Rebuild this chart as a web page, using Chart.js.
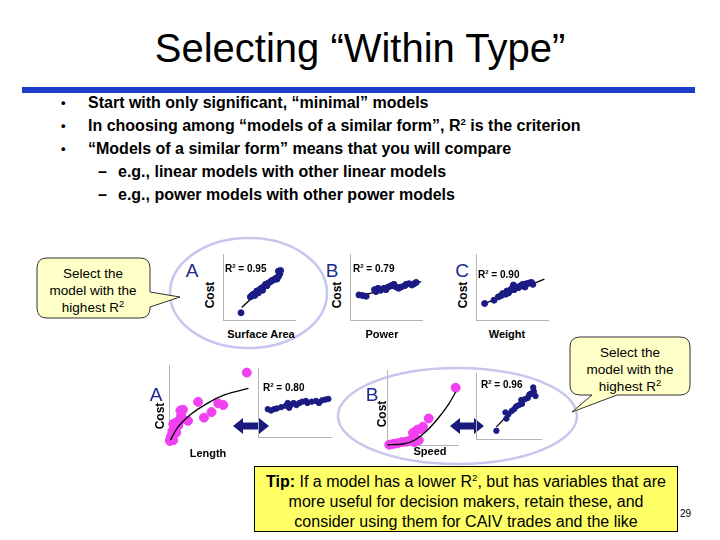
<!DOCTYPE html>
<html>
<head>
<meta charset="utf-8">
<script src="https://cdn.jsdelivr.net/npm/chart.js@4.4.1/dist/chart.umd.min.js"></script>
<style>
  html, body { margin: 0; padding: 0; background: #fff; }
  #slide { position: relative; width: 720px; height: 540px; overflow: hidden; background: #fff;
           font-family: 'Liberation Sans', Arial, sans-serif; color: #000; }
  .t { position: absolute; white-space: nowrap; }
  .c { position: absolute; white-space: nowrap; transform: translate(-50%, -50%); }
  .rot { position: absolute; white-space: nowrap; transform: translate(-50%, -50%) rotate(-90deg);
         font-weight: bold; font-size: 12px; }
  .ax { font-weight: bold; font-size: 11px; }
  .r2 { position: absolute; white-space: nowrap; font-weight: bold; font-size: 10px; line-height: 10px; }
  .r2 sup { font-size: 6px; vertical-align: 4px; line-height: 0; }
  .big { color: #1d2a8e; font-size: 19px; }
  .bul { position: absolute; font-size: 16px; font-weight: bold; line-height: 18px; white-space: nowrap; }
  .dot { font-size: 13px; }
  .bul sup, .tip sup { font-size: 60%; vertical-align: 6px; line-height: 0; }
  canvas { position: absolute; }
  svg { position: absolute; left: 0; top: 0; }
  .call { position: absolute; text-align: center; font-size: 13.5px; line-height: 17px; transform: translate(-50%, -50%); white-space: nowrap; }
  .call sup { font-size: 70%; vertical-align: 5px; line-height: 0; }
</style>
</head>
<body>
<div id="slide">
  <svg width="720" height="540">
    <ellipse cx="248.5" cy="293" rx="78.5" ry="55" fill="none" stroke="#c6c6ee" stroke-width="2.5"/>
    <ellipse cx="457.5" cy="416" rx="119.5" ry="48" fill="none" stroke="#c6c6ee" stroke-width="2.5"/>
    <path d="M47,258 H140 Q150,258 150,268 V292 L180,297 L150,307 V308 Q150,318 140,318 H47 Q37,318 37,308 V268 Q37,258 47,258 Z"
          fill="#ffffc8" stroke="#333" stroke-width="1"/>
    <path d="M580,337 H680 Q690,337 690,347 V385 Q690,395 680,395 H617 L572,412 L592,395 H580 Q570,395 570,385 V347 Q570,337 580,337 Z"
          fill="#ffffc8" stroke="#333" stroke-width="1"/>
    <path d="M233,426 L243,418 V422.5 H259 V418 L269,426 L259,434 V429.5 H243 V434 Z" fill="#1a1a7c"/>
    <path d="M450,426 L460,418 V422.5 H474 V418 L484,426 L474,434 V429.5 H460 V434 Z" fill="#1a1a7c"/>
  </svg>

  <div class="c" style="left:360px; top:48px; font-size:40px;">Selecting “Within Type”</div>
  <div style="position:absolute; left:22px; top:87px; width:673px; height:6px; background:#1f3ccc;"></div>

  <div class="bul dot" style="left:61px; top:94px;">•</div>
  <div class="bul" style="left:88px; top:94px;">Start with only significant, “minimal” models</div>
  <div class="bul dot" style="left:61px; top:117px;">•</div>
  <div class="bul" style="left:88px; top:117px;">In choosing among “models of a similar form”, R<sup>2</sup> is the criterion</div>
  <div class="bul dot" style="left:61px; top:140px;">•</div>
  <div class="bul" style="left:88px; top:140px;">“Models of a similar form” means that you will compare</div>
  <div class="bul" style="left:98px; top:163px;">–</div>
  <div class="bul" style="left:118px; top:163px;">e.g., linear models with other linear models</div>
  <div class="bul" style="left:98px; top:186px;">–</div>
  <div class="bul" style="left:118px; top:186px;">e.g., power models with other power models</div>

  <canvas id="cArea" width="80" height="74" style="left:219px; top:250px;"></canvas>
  <canvas id="cPower" width="80" height="74" style="left:346px; top:250px;"></canvas>
  <canvas id="cWeight" width="80" height="74" style="left:472px; top:250px;"></canvas>
  <canvas id="cLength" width="95" height="90" style="left:164px; top:360px;"></canvas>
  <canvas id="cLengthLin" width="80" height="76" style="left:255px; top:365px;"></canvas>
  <canvas id="cSpeed" width="82" height="86" style="left:382px; top:365px;"></canvas>
  <canvas id="cSpeedLin" width="72" height="73" style="left:473px; top:370px;"></canvas>

  <div class="c big" style="left:192px; top:271px;">A</div>
  <div class="c big" style="left:332px; top:271px;">B</div>
  <div class="c big" style="left:462px; top:271px;">C</div>
  <div class="c big" style="left:156px; top:395px;">A</div>
  <div class="c big" style="left:372px; top:395px;">B</div>

  <div class="rot" style="left:210px; top:295px;">Cost</div>
  <div class="rot" style="left:337px; top:295px;">Cost</div>
  <div class="rot" style="left:463px; top:295px;">Cost</div>
  <div class="rot" style="left:160px; top:416px;">Cost</div>
  <div class="rot" style="left:382px; top:414px;">Cost</div>

  <div class="c ax" style="left:261px; top:334px;">Surface Area</div>
  <div class="c ax" style="left:382px; top:334px;">Power</div>
  <div class="c ax" style="left:507px; top:334px;">Weight</div>
  <div class="c ax" style="left:208px; top:453px;">Length</div>
  <div class="c ax" style="left:430px; top:451px;">Speed</div>

  <div class="r2" style="left:225px; top:264px;">R<sup>2</sup> = 0.95</div>
  <div class="r2" style="left:353px; top:264px;">R<sup>2</sup> = 0.79</div>
  <div class="r2" style="left:478px; top:270px;">R<sup>2</sup> = 0.90</div>
  <div class="r2" style="left:263px; top:383px;">R<sup>2</sup> = 0.80</div>
  <div class="r2" style="left:481px; top:380px;">R<sup>2</sup> = 0.96</div>

  <div class="call" style="left:93px; top:290px;">Select the<br>model with the<br>highest R<sup>2</sup></div>
  <div class="call" style="left:630px; top:369px;">Select the<br>model with the<br>highest R<sup>2</sup></div>

  <div class="tip" style="position:absolute; left:254px; top:466px; width:424px; height:66px; background:#ffff66;
       border:1px solid #000; box-sizing:border-box; text-align:center; font-size:16px; line-height:20px; padding-top:5px;">
    <b>Tip:</b> If a model has a lower R<sup>2</sup>, but has variables that are<br>
    more useful for decision makers, retain these, and<br>
    consider using them for CAIV trades and the like
  </div>
  <div class="t" style="left:680px; top:508px; font-size:10px;">29</div>
</div>

<script>
// Cost vs surface area (linear, R2 0.95)
const areaX    = [2.5, 3.8, 4.0, 4.2, 4.4, 4.7, 4.9, 5.1, 5.3, 5.6, 5.9, 6.1, 6.3, 6.6, 6.8, 7.1, 7.3, 7.5, 7.7, 7.9, 7.7, 8.0, 5.5, 4.4];
const areaCost = [1.1, 3.5, 3.7, 3.9, 4.0, 4.4, 4.1, 4.6, 4.8, 5.0, 5.4, 5.2, 5.6, 5.8, 6.0, 6.1, 6.3, 6.2, 6.6, 7.0, 7.4, 7.5, 4.5, 3.7];
const areaFitX = [2.6, 7.9];
const areaFitCost = [1.9, 7.3];

// Cost vs power (linear, R2 0.79)
const powerX    = [1.25, 1.75, 2.25, 3.4, 3.6, 3.9, 4.25, 4.7, 5.0, 5.3, 5.7, 6.1, 6.4, 6.75, 7.1, 7.6, 7.8, 8.2, 8.6, 8.9, 9.2];
const powerCost = [3.8, 3.7, 3.6, 4.6, 4.3, 4.8, 4.5, 4.8, 4.6, 5.0, 5.2, 5.4, 5.0, 4.8, 5.0, 5.2, 5.4, 5.5, 5.3, 5.5, 5.7];
const powerFitX = [1.1, 9.9];
const powerFitCost = [3.6, 5.8];

// Cost vs weight (linear, R2 0.90)
const weightX    = [1.2, 2.5, 3.1, 3.5, 3.7, 4.1, 4.3, 4.5, 4.75, 5.0, 5.2, 5.3, 5.6, 5.9, 6.2, 6.5, 6.8, 7.0, 7.4, 7.7, 7.9];
const weightCost = [2.5, 3.0, 3.5, 3.7, 4.0, 3.9, 4.4, 4.1, 4.5, 4.8, 5.3, 4.6, 5.0, 4.9, 5.2, 5.4, 5.0, 5.5, 5.6, 5.7, 5.4];
const weightFitX = [1.0, 9.5];
const weightFitCost = [2.4, 6.2];

// Cost vs length (log-shaped curve)
const lengthX    = [9.2, 3.4, 5.8, 6.4, 5.0, 4.1, 2.2, 1.6, 1.3, 1.4, 1.2, 0.8, 0.45, 1.05, 0.6, 0.35, 0.2, 0.1, 0.45, 0.05, 0.3, 0.8, 1.3];
const lengthCost = [9.1, 5.4, 5.2, 5.0, 4.1, 3.4, 3.0, 4.4, 4.3, 3.7, 3.1, 2.8, 2.6, 2.4, 2.0, 1.7, 1.1, 0.7, 0.55, 0.45, 0.9, 1.5, 3.1];
const lengthFitX = [0.1, 1.0, 2.4, 4.5, 6.6, 9.4];
const lengthFitCost = [0.55, 2.2, 3.7, 5.2, 6.3, 7.1];

// Same data after transform (linear, R2 0.80)
const lengthLinX    = [1.25, 1.7, 2.1, 2.5, 3.1, 3.75, 4.0, 4.2, 4.4, 4.8, 5.2, 5.6, 6.0, 6.5, 6.7, 7.3, 7.9, 8.3, 8.75, 9.2, 9.6];
const lengthLinCost = [4.1, 3.9, 4.1, 4.2, 4.4, 4.6, 5.0, 4.3, 4.7, 5.0, 4.7, 5.0, 5.2, 5.3, 5.0, 5.2, 5.3, 5.0, 5.4, 5.5, 5.6];
const lengthLinFitX = [1.0, 9.8];
const lengthLinFitCost = [3.85, 5.7];

// Cost vs speed (power curve)
const speedX    = [9.6, 5.8, 5.0, 4.7, 3.6, 3.8, 3.2, 2.6, 2.0, 1.4, 0.8, 0.25, 3.8, 4.4, 4.2];
const speedCost = [7.7, 3.6, 2.5, 2.2, 1.7, 1.1, 0.7, 0.5, 0.45, 0.3, 0.2, 0.1, 0.45, 0.7, 2.1];
const speedFitX = [0, 2.2, 3.8, 5.45, 7.1, 8.5, 9.6];
const speedFitCost = [0.1, 0.2, 0.7, 1.9, 3.6, 5.35, 7.1];

// Same data after transform (linear, R2 0.96)
const speedLinX    = [3.05, 4.45, 4.9, 4.6, 5.4, 5.8, 6.1, 6.5, 7.0, 6.9, 7.45, 7.9, 8.15, 8.5, 8.85, 9.1, 8.75, 8.3];
const speedLinCost = [1.3, 4.1, 3.8, 3.15, 4.3, 4.6, 5.0, 5.2, 5.4, 6.0, 6.1, 6.3, 6.8, 7.0, 7.3, 6.6, 7.9, 6.9];
const speedLinFitX = [3.05, 8.85];
const speedLinFitCost = [1.9, 7.8];

const NAVY = '#1b1b84';
const PINK = '#f040f0';
const AXIS = '#b4b4b4';

function pairs(xs, ys) {
    return xs.map((x, i) => ({ x: x, y: ys[i] }));
}

function costChart(id, xs, ys, fitX, fitY, o) {
    return new Chart(document.getElementById(id), {
        type: 'scatter',
        data: {
            datasets: [{
                data: pairs(xs, ys),
                backgroundColor: o.color,
                borderColor: o.color,
                pointRadius: o.r,
                pointHoverRadius: o.r,
                clip: false,
                order: 2
            }, {
                type: 'line',
                data: pairs(fitX, fitY),
                borderColor: '#000',
                borderWidth: 1.3,
                pointRadius: 0,
                cubicInterpolationMode: o.curve ? 'monotone' : 'default',
                fill: false,
                clip: false,
                order: o.lineOnTop ? 1 : 3
            }]
        },
        options: {
            responsive: false,
            animation: false,
            events: [],
            layout: { padding: 0 },
            plugins: { legend: { display: false }, tooltip: { enabled: false } },
            scales: {
                x: {
                    type: 'linear', min: 0, max: 10,
                    ticks: { display: false },
                    grid: { display: false, drawTicks: false },
                    border: { display: o.xAxis !== false, color: AXIS, width: 1 }
                },
                y: {
                    min: 0, max: 10,
                    ticks: { display: false },
                    grid: { display: false, drawTicks: false },
                    border: { display: true, color: AXIS, width: 1 }
                }
            }
        }
    });
}

costChart('cArea', areaX, areaCost, areaFitX, areaFitCost, { color: NAVY, r: 3 });
costChart('cPower', powerX, powerCost, powerFitX, powerFitCost, { color: NAVY, r: 3 });
costChart('cWeight', weightX, weightCost, weightFitX, weightFitCost, { color: NAVY, r: 3 });
costChart('cLength', lengthX, lengthCost, lengthFitX, lengthFitCost, { color: PINK, r: 4.5, curve: true, lineOnTop: true, xAxis: false });
costChart('cLengthLin', lengthLinX, lengthLinCost, lengthLinFitX, lengthLinFitCost, { color: NAVY, r: 2.7 });
costChart('cSpeed', speedX, speedCost, speedFitX, speedFitCost, { color: PINK, r: 4.5, curve: true, lineOnTop: true });
costChart('cSpeedLin', speedLinX, speedLinCost, speedLinFitX, speedLinFitCost, { color: NAVY, r: 2.7 });
</script>
</body>
</html>
